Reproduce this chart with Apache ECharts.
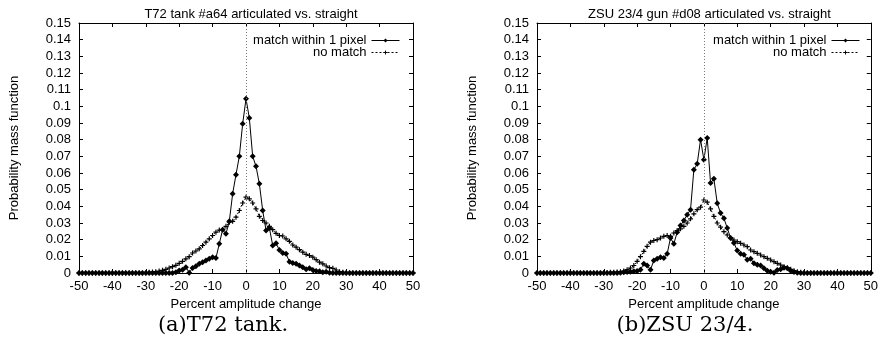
<!DOCTYPE html>
<html>
<head>
<meta charset="utf-8">
<script src="https://cdn.jsdelivr.net/npm/echarts@6/dist/echarts.min.js"></script>
<style>
html,body{margin:0;padding:0;background:#fff;}
#chart{width:881px;height:344px;}
</style>
</head>
<body>
<div id="chart"></div>
<script>
// Percent amplitude change (x positions)
var amplitude = [-50,-49,-48,-47,-46,-45,-44,-43,-42,-41,-40,-39,-38,-37,-36,-35,-34,-33,-32,-31,
  -30,-29,-28,-27,-26,-25,-24,-23,-22,-21,-20,-19,-18,-17,-16,-15,-14,-13,-12,-11,
  -10,-9,-8,-7,-6,-5,-4,-3,-2,-1,0,1,2,3,4,5,6,7,8,9,
  10,11,12,13,14,15,16,17,18,19,20,21,22,23,24,25,26,27,28,29,
  30,31,32,33,34,35,36,37,38,39,40,41,42,43,44,45,46,47,48,49,50];

// (a) T72 tank — match within 1 pixel
var t72Match = [0,0,0,0,0,0,0,0,0,0, 0,0,0,0,0,0,0,0,0,0, 0,0,0,0,0,0,0,0,0,
  0.0005,0.0015,0.002,0.0035,0.0002,0.003,0.004,0.0055,0.0065,0.0075,0.0085,
  0.0095,0.009,0.0175,0.026,0.0235,0.031,0.0475,0.059,0.07,0.0895,
  0.1045,0.093,0.07,0.064,0.0535,0.0375,0.0255,0.027,0.0165,0.0178,
  0.0138,0.012,0.0115,0.0068,0.006,0.0055,0.0045,0.0035,0.0022,0.0028,
  0.0018,0.0012,0.001,0.0004,0.0008,0.0002,
  0,0,0,0,0,0,0,0,0,0, 0,0,0,0,0,0,0,0,0,0, 0,0,0,0,0];
// (a) T72 tank — no match
var t72NoMatch = [0,0,0,0,0,0,0,0,0,0, 0,0,0,0,0,0,0,0,0,0,
  0.0002,0.0004,0.0006,0.0008,0.0012,0.0016,0.0022,0.003,0.0038,0.0046,
  0.0058,0.007,0.0085,0.0098,0.012,0.0132,0.0145,0.0165,0.0185,0.0205,
  0.0225,0.0245,0.0258,0.026,0.028,0.0305,0.031,0.0335,0.0375,0.042,
  0.0455,0.0445,0.042,0.0385,0.034,0.0315,0.03,0.028,0.026,0.0238,
  0.0225,0.0222,0.0205,0.019,0.0168,0.0155,0.014,0.0125,0.0112,0.0105,
  0.0095,0.008,0.0065,0.0055,0.0042,0.0032,0.0028,0.0018,0.0008,0.0004,
  0.0002,
  0,0,0,0,0,0,0,0,0,0, 0,0,0,0,0,0,0,0,0,0];
// (b) ZSU 23/4 — match within 1 pixel
var zsuMatch = [0,0,0,0,0,0,0,0,0,0, 0,0,0,0,0,0,0,0,0,0, 0,0,0,0,0,
  0.0002,0.0004,0.0006,0.0008,0.001,
  0.0012,0.002,0.0055,0.0045,0.002,0.0075,0.0085,0.0095,0.009,0.0115,
  0.021,0.0175,0.0245,0.0285,0.0315,0.035,0.038,0.062,0.0655,0.08,
  0.068,0.081,0.054,0.0565,0.0418,0.036,0.0328,0.027,0.021,0.018,
  0.0135,0.0115,0.011,0.008,0.0085,0.0058,0.005,0.0045,0.0028,0.0014,
  0.0008,0.0002,0.0018,0.0022,0.0032,0.0028,0.0014,0.0006,0.0002,
  0,0,0,0,0,0,0,0,0,0, 0,0,0,0,0,0,0,0,0,0, 0,0];
// (b) ZSU 23/4 — no match
var zsuNoMatch = [0,0,0,0,0,0,0,0,0,0, 0,0,0,0,0,0,0,0,0,0,
  0.0002,0.0002,0.0004,0.0004,0.0006,0.0008,0.0012,0.002,0.003,0.0045,
  0.007,0.0098,0.013,0.016,0.0185,0.0195,0.02,0.021,0.022,0.0225,
  0.022,0.024,0.0255,0.0265,0.028,0.03,0.0325,0.0355,0.038,0.0395,
  0.0438,0.0425,0.0385,0.034,0.03,0.0275,0.0248,0.0228,0.021,0.0198,
  0.0188,0.0178,0.0168,0.0158,0.0138,0.0128,0.0118,0.0108,0.0098,0.0088,
  0.0078,0.0068,0.0058,0.0048,0.0038,0.0032,0.0022,0.0014,0.0008,0.0004,
  0.0002,
  0,0,0,0,0,0,0,0,0,0, 0,0,0,0,0,0,0,0,0,0];

var panelTitles = ['T72 tank #a64 articulated vs. straight', 'ZSU 23/4 gun #d08 articulated vs. straight'];
var panelCaptions = ['(a)T72 tank.', '(b)ZSU 23/4.'];
var seriesNames = ['match within 1 pixel', 'no match'];
var xLabel = 'Percent amplitude change';
var yLabel = 'Probability mass function';

function pairs(vals) { return amplitude.map(function (x, i) { return [x, vals[i]]; }); }

var FONT = 'Liberation Sans';
var grids = [
  {left: 79, top: 23, width: 334, height: 250},
  {left: 537, top: 23, width: 335, height: 250}
];
var centers = [246, 704.5];
var capCenters = [218, 680];

var xAxes = [], yAxes = [], series = [], titles = [], legends = [];
var plus = 'path://M-0.7,-3H0.7V-0.7H3V0.7H0.7V3H-0.7V0.7H-3V-0.7H-0.7Z';
var data = [[t72Match, t72NoMatch], [zsuMatch, zsuNoMatch]];

[0, 1].forEach(function (g) {
  xAxes.push({
    type: 'value', gridIndex: g, min: -50, max: 50, interval: 10, position: 'bottom',
    axisLine: {show: true, onZero: false, lineStyle: {color: '#000', width: 1}},
    axisTick: {show: true, inside: true, length: 4, lineStyle: {color: '#000'}},
    axisLabel: {show: true, color: '#000', fontFamily: FONT, fontSize: 13, margin: 7},
    splitLine: {show: false},
    name: xLabel, nameLocation: 'middle', nameGap: 19,
    nameTextStyle: {color: '#000', fontFamily: FONT, fontSize: 13}
  });
  xAxes.push({
    type: 'value', gridIndex: g, min: -50, max: 50, interval: 10, position: 'top',
    axisLine: {show: true, onZero: false, lineStyle: {color: '#000', width: 1}},
    axisTick: {show: true, inside: true, length: 4, lineStyle: {color: '#000'}},
    axisLabel: {show: false}, splitLine: {show: false}
  });
  yAxes.push({
    type: 'value', gridIndex: g, min: 0, max: 0.15, interval: 0.01, position: 'left',
    axisLine: {show: true, onZero: false, lineStyle: {color: '#000', width: 1}},
    axisTick: {show: true, inside: true, length: 4, lineStyle: {color: '#000'}},
    axisLabel: {show: true, color: '#000', fontFamily: FONT, fontSize: 13, margin: 8,
      formatter: function (v) { return String(Math.round(v * 100) / 100); }},
    splitLine: {show: false},
    name: yLabel, nameLocation: 'middle', nameGap: 58, nameRotate: 90,
    nameTextStyle: {color: '#000', fontFamily: FONT, fontSize: 13}
  });
  yAxes.push({
    type: 'value', gridIndex: g, min: 0, max: 0.15, interval: 0.01, position: 'right',
    axisLine: {show: true, onZero: false, lineStyle: {color: '#000', width: 1}},
    axisTick: {show: true, inside: true, length: 4, lineStyle: {color: '#000'}},
    axisLabel: {show: false}, splitLine: {show: false}
  });

  series.push({
    name: seriesNames[0], type: 'line', xAxisIndex: 2 * g, yAxisIndex: 2 * g,
    data: pairs(data[g][0]), symbol: 'diamond', symbolSize: 6, showSymbol: true,
    lineStyle: {color: '#000', width: 1}, itemStyle: {color: '#000'}, z: 3,
    markLine: {silent: true, symbol: ['none', 'none'], label: {show: false},
      lineStyle: {color: '#777', type: [1, 2], width: 1}, data: [{xAxis: 0}]}
  });
  series.push({
    name: seriesNames[1], type: 'line', xAxisIndex: 2 * g, yAxisIndex: 2 * g,
    data: pairs(data[g][1]), symbol: plus, symbolSize: 5, showSymbol: true,
    lineStyle: {color: '#000', width: 1, type: [2, 2]}, itemStyle: {color: '#000'}, z: 2
  });

  titles.push({
    text: panelTitles[g], left: centers[g], top: 3, textAlign: 'center',
    textStyle: {fontFamily: FONT, fontSize: 13, fontWeight: 'normal', color: '#000'}
  });
  titles.push({
    text: panelCaptions[g], left: capCenters[g], top: 310, textAlign: 'center',
    textStyle: {fontFamily: 'DejaVu Serif', fontSize: 21, fontWeight: 'normal', color: '#000'}
  });

  var rightPos = g === 0 ? 481 : 21;
  [0, 1].forEach(function (k) {
    legends.push({
      data: [seriesNames[k]], right: rightPos, top: 34 + 12 * k, orient: 'vertical', align: 'right',
      itemWidth: 28, itemHeight: 5, itemGap: 0, selectedMode: false, padding: 0,
      lineStyle: {width: 1},
      textStyle: {fontFamily: FONT, fontSize: 13, color: '#000', padding: [0, 0, 0, 0]}
    });
  });
});

var chart = echarts.init(document.getElementById('chart'), null, {renderer: 'canvas'});
chart.setOption({
  animation: false,
  backgroundColor: '#fff',
  title: titles,
  legend: legends,
  grid: grids,
  xAxis: xAxes,
  yAxis: yAxes,
  series: series
});
</script>
</body>
</html>
